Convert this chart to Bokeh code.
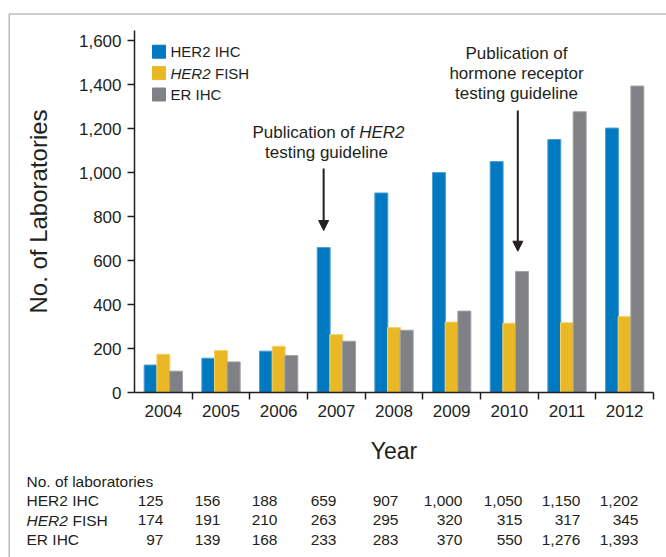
from bokeh.plotting import figure
from bokeh.models import (ColumnDataSource, FixedTicker, NumeralTickFormatter, Label,
                          LabelSet, Arrow, NormalHead, PolyAnnotation, Range1d, LinearAxis)
from bokeh.core.properties import value
from bokeh.embed import file_html
from bokeh.resources import INLINE

# ---------------- data ----------------
years = ["2004", "2005", "2006", "2007", "2008", "2009", "2010", "2011", "2012"]
her2_ihc = [125, 156, 188, 659, 907, 1000, 1050, 1150, 1202]
her2_fish = [174, 191, 210, 263, 295, 320, 315, 317, 345]
er_ihc = [97, 139, 168, 233, 283, 370, 550, 1276, 1393]
series_names = ["HER2 IHC", "HER2 FISH", "ER IHC"]
y_ticks = [0, 200, 400, 600, 800, 1000, 1200, 1400, 1600]
table_title = "No. of laboratories"

# ---------------- styles / layout (page pixels) ----------------
colors = ["#0079c1", "#e9b824", "#808184"]
edges = ["#4fa2d8", "#f4d26a", "#a2a3a6"]
TXT = "#231f20"
FONT = "Liberation Sans"
W, H = 666, 557
AX_L, AX_R, AX_T, AX_B = 134, 653, 30, 392   # where the data axes sit on the page
PX_PER_UNIT = 0.22
N = len(years)
PX_PER_CAT = (AX_R - AX_L) / N
BAR_W = 0.225
OFFSETS = [-0.22, 0.0, 0.22]


def X(px):
    return (px - AX_L) / PX_PER_CAT


def Y(py):
    return (AX_B - py) / PX_PER_UNIT


Y_TOP = Y(AX_T)

# the frame covers the whole canvas; axes are pinned at the data origin
p = figure(width=W, height=H, x_range=Range1d(X(0), X(W)), y_range=Range1d(Y(H), Y(0)),
           output_backend="svg", toolbar_location=None, min_border=0)
p.outline_line_color = None
p.xgrid.visible = False
p.ygrid.visible = False
p.background_fill_color = "white"
p.border_fill_color = "white"

# ---------------- bars ----------------
centers = [i + 0.5 for i in range(N)]
for k, vals in enumerate([her2_ihc, her2_fish, er_ihc]):
    src = ColumnDataSource(dict(x=[c + OFFSETS[k] for c in centers], top=vals))
    p.vbar(x="x", top="top", width=BAR_W, bottom=0, source=src,
           fill_color=colors[k], line_color=edges[k], line_width=1)

# ---------------- axes ----------------
ya = p.yaxis[0]
ya.fixed_location = 0
ya.bounds = (0, Y_TOP)
ya.ticker = FixedTicker(ticks=y_ticks)
ya.formatter = NumeralTickFormatter(format="0,0")
ya.major_tick_out = 7
ya.major_tick_in = 0
ya.minor_tick_line_color = None
ya.axis_line_width = 1.5
ya.major_tick_line_width = 1.5
ya.axis_line_color = TXT
ya.major_tick_line_color = TXT
ya.major_label_text_font = FONT
ya.major_label_text_font_size = "17px"
ya.major_label_text_color = TXT
ya.major_label_standoff = 6
ya.axis_label = "No. of Laboratories"
ya.axis_label_text_font = FONT
ya.axis_label_text_font_size = "24px"
ya.axis_label_text_font_style = "normal"
ya.axis_label_text_color = TXT
ya.axis_label_standoff = 24

# axis with the tick marks on the category boundaries (no labels)
boundaries = list(range(1, N + 1))
xa = p.xaxis[0]
xa.fixed_location = 0
xa.bounds = (0, N)
xa.ticker = FixedTicker(ticks=boundaries)
xa.major_label_overrides = {b: "" for b in boundaries}
xa.major_tick_out = 7
xa.major_tick_in = 0
xa.minor_tick_line_color = None
xa.axis_line_width = 1.5
xa.major_tick_line_width = 1.5
xa.axis_line_color = TXT
xa.major_tick_line_color = TXT
xa.major_label_standoff = 0

# axis with the year labels at the category centres
xb = LinearAxis(fixed_location=0, bounds=(0, N),
                ticker=FixedTicker(ticks=centers),
                major_label_overrides={c: y for c, y in zip(centers, years)},
                axis_line_color=None, major_tick_line_color=None, minor_tick_line_color=None,
                major_tick_out=0, major_tick_in=0, major_label_standoff=12,
                major_label_text_font=FONT, major_label_text_font_size="17px",
                major_label_text_color=TXT,
                axis_label="Year", axis_label_text_font=FONT, axis_label_text_font_size="23px",
                axis_label_text_font_style="normal", axis_label_text_color=TXT,
                axis_label_standoff=18)
p.add_layout(xb, "below")


def lab(x, y, text, size="15px", align="left", style="normal"):
    p.add_layout(Label(x=x, y=y, text=text, text_align=align, text_baseline="middle",
                       text_font=FONT, text_font_size=size, text_color=TXT,
                       text_font_style=style))


# ---------------- legend (manual, for the italic gene name) ----------------
LEG_X, LEG_Y0, LEG_DY = 158.5, 51.2, 21.4
leg_src = ColumnDataSource(dict(x=[X(LEG_X)] * 3,
                                y=[Y(LEG_Y0 + i * LEG_DY) for i in range(3)],
                                c=colors))
p.scatter(x="x", y="y", marker="square", size=13, fill_color="c", line_color="c", source=leg_src)
lab(X(170), Y(LEG_Y0), series_names[0])
lab(X(170), Y(LEG_Y0 + LEG_DY), "HER2", style="italic")
lab(X(170 + 44.5), Y(LEG_Y0 + LEG_DY), "FISH")
lab(X(170), Y(LEG_Y0 + 2 * LEG_DY), series_names[2])

# ---------------- annotations ----------------
lab(X(354), Y(131.7), "Publication of", size="17px", align="right")
lab(X(358.7), Y(131.7), "HER2", size="17px", style="italic")
lab(X(326), Y(151.7), "testing guideline", size="17px", align="center")
lab(X(516), Y(53.3), "Publication of", size="17px", align="center")
lab(X(516), Y(72.7), "hormone receptor", size="17px", align="center")
lab(X(516), Y(92.7), "testing guideline", size="17px", align="center")

i07 = years.index("2007")
p.add_layout(Arrow(x_start=i07 + 0.5 + OFFSETS[0], y_start=Y(168),
                   x_end=i07 + 0.5 + OFFSETS[0], y_end=Y(230),
                   line_width=2, line_color=TXT,
                   end=NormalHead(size=10, fill_color=TXT, line_color=TXT, line_width=1)))
p.add_layout(Arrow(x_start=X(517.3), y_start=Y(110), x_end=X(517.3), y_end=Y(250.7),
                   line_width=2, line_color=TXT,
                   end=NormalHead(size=10, fill_color=TXT, line_color=TXT, line_width=1)))

# ---------------- table ----------------
TAB_X = 26
TAB_SIZE = "15.5px"
TAB_ROWS_Y = [481, 500, 519.5, 539]
COL_RIGHT = [163, 220, 277, 336, 398, 462, 522, 580, 638]
lab(X(TAB_X), Y(TAB_ROWS_Y[0]), table_title, size=TAB_SIZE)
lab(X(TAB_X), Y(TAB_ROWS_Y[1]), series_names[0], size=TAB_SIZE)
lab(X(TAB_X), Y(TAB_ROWS_Y[2]), "HER2", size=TAB_SIZE, style="italic")
lab(X(TAB_X + 46), Y(TAB_ROWS_Y[2]), "FISH", size=TAB_SIZE)
lab(X(TAB_X), Y(TAB_ROWS_Y[3]), series_names[2], size=TAB_SIZE)
for r, vals in enumerate([her2_ihc, her2_fish, er_ihc]):
    src = ColumnDataSource(dict(x=[X(c) for c in COL_RIGHT],
                                y=[Y(TAB_ROWS_Y[r + 1])] * N,
                                text=[f"{v:,}" for v in vals]))
    p.add_layout(LabelSet(x="x", y="y", text="text", source=src, text_align="right",
                          text_baseline="middle", text_font=value(FONT),
                          text_font_size=TAB_SIZE, text_color=TXT))

# ---------------- outer frame (top and left rules) ----------------
p.add_layout(PolyAnnotation(xs=[X(8.75), X(8.75), X(720), X(720)],
                            ys=[Y(620), Y(13.5), Y(13.5), Y(620)],
                            fill_alpha=0, line_color=TXT, line_width=1.5))

open("out.html", "w").write(file_html(p, INLINE))
